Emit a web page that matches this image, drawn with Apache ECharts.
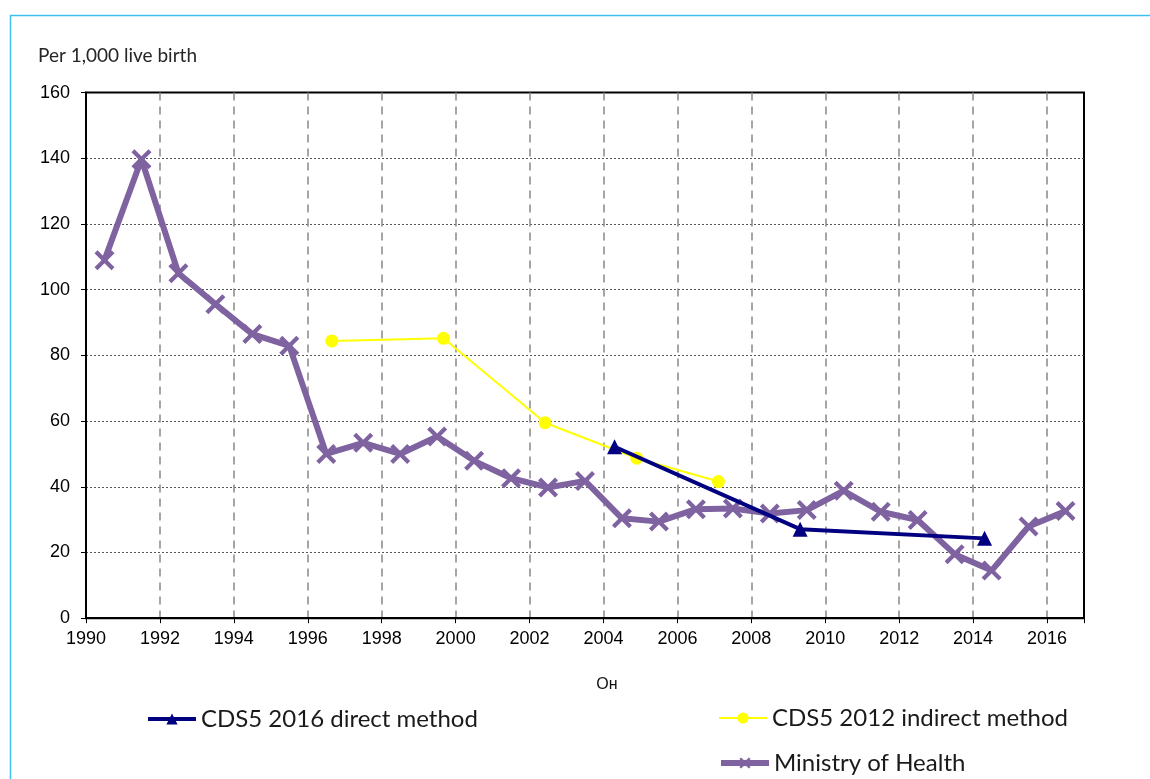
<!DOCTYPE html>
<html>
<head>
<meta charset="utf-8">
<script src="https://cdn.jsdelivr.net/npm/echarts@6/dist/echarts.min.js"></script>
<style>
  html, body { margin: 0; padding: 0; background: #fff; }
  #chart { width: 1150px; height: 779px; }
</style>
</head>
<body>
<div id="chart"></div>
<script>
// Ministry of Health, yearly values plotted at mid-year
const mohYears = [1990.5, 1991.5, 1992.5, 1993.5, 1994.5, 1995.5, 1996.5, 1997.5, 1998.5, 1999.5,
    2000.5, 2001.5, 2002.5, 2003.5, 2004.5, 2005.5, 2006.5, 2007.5, 2008.5, 2009.5,
    2010.5, 2011.5, 2012.5, 2013.5, 2014.5, 2015.5, 2016.5];
const mohValues = [109, 139.7, 105, 95.6, 86.5, 82.9, 50, 53.4, 50, 55.3,
    47.9, 42.6, 39.8, 41.8, 30.4, 29.4, 33.2, 33.4, 31.9, 32.9,
    38.8, 32.4, 29.9, 19.5, 14.5, 27.9, 32.6];

// CDS5 2012 indirect method
const indirectYears = [1996.65, 1999.67, 2002.42, 2004.9, 2007.11];
const indirectValues = [84.4, 85.2, 59.5, 48.7, 41.6];

// CDS5 2016 direct method
const directYears = [2004.3, 2009.32, 2014.31];
const directValues = [52.2, 27.1, 24.3];

const seriesNames = ['CDS5 2016 direct method', 'CDS5 2012 indirect method', 'Ministry of Health'];

const pairs = (xs, ys) => xs.map((x, i) => [x, ys[i]]);

const crossPath = 'path://M1.5,0 L5,3.5 L8.5,0 L10,1.5 L6.5,5 L10,8.5 L8.5,10 L5,6.5 L1.5,10 L0,8.5 L3.5,5 L0,1.5 Z';
const font = 'Liberation Sans, Arial, sans-serif';
const softFont = 'Lato, Open Sans, sans-serif';

const legendBase = {
    itemWidth: 48, itemHeight: 14, itemGap: 2,
    textStyle: { fontFamily: softFont, fontSize: 24, color: '#1a1a1a' }
};

const chart = echarts.init(document.getElementById('chart'));

const option = {
    animation: false,
    backgroundColor: '#fff',
    graphic: [{
        type: 'rect',
        left: 8, top: 13,
        shape: { width: 1300, height: 900 },
        style: { fill: 'none', stroke: '#3cc0ee', lineWidth: 1.5 },
        silent: true
    }],
    title: {
        text: 'Per 1,000 live birth',
        left: 33, top: 41,
        textStyle: { fontFamily: softFont, fontSize: 19, fontWeight: 'normal', color: '#262626' }
    },
    grid: { left: 86, top: 92.6, right: 66, bottom: 160.8, show: true, borderColor: '#000', borderWidth: 2 },
    legend: [
        Object.assign({ data: [seriesNames[0]], left: 141, top: 702, lineStyle: { width: 4 } }, legendBase),
        Object.assign({ data: [seriesNames[1]], left: 713, top: 701, lineStyle: { width: 2 } }, legendBase),
        Object.assign({ data: [seriesNames[2]], left: 713, top: 746, lineStyle: { width: 6 } }, legendBase)
    ],
    xAxis: {
        type: 'value',
        min: 1990, max: 2017, interval: 2,
        name: 'Он', nameLocation: 'middle', nameGap: 58,
        nameTextStyle: { fontFamily: font, fontSize: 16, color: '#111', padding: [0, 0, 0, 44] },
        axisLine: { lineStyle: { color: '#000', width: 2 } },
        axisTick: { show: true, length: 5, lineStyle: { color: '#000' } },
        axisLabel: {
            fontFamily: font, fontSize: 18, color: '#000', margin: 12,
            formatter: v => (v % 2 === 0 ? String(v) : '')
        },
        splitLine: { show: true, showMaxLine: false, lineStyle: { color: '#888', type: [8, 6], width: 1.5 } }
    },
    yAxis: {
        type: 'value',
        min: 0, max: 160, interval: 20,
        axisLine: { show: true, lineStyle: { color: '#000', width: 2 } },
        axisTick: { show: true, length: 5, lineStyle: { color: '#000' } },
        axisLabel: { fontFamily: font, fontSize: 18, color: '#000', margin: 16 },
        splitLine: { show: true, showMaxLine: false, lineStyle: { color: '#555', type: [2, 2], width: 1 } }
    },
    series: [
        {
            name: seriesNames[2],
            type: 'line',
            data: pairs(mohYears, mohValues),
            z: 2,
            color: '#7f63a1',
            lineStyle: { width: 6, color: '#7f63a1' },
            symbol: crossPath,
            symbolSize: 20,
            itemStyle: { color: '#7f63a1' }
        },
        {
            name: seriesNames[1],
            type: 'line',
            data: pairs(indirectYears, indirectValues),
            z: 3,
            color: '#ffff00',
            lineStyle: { width: 2, color: '#ffff00' },
            symbol: 'circle',
            symbolSize: 13,
            itemStyle: { color: '#ffff00', borderWidth: 0 }
        },
        {
            name: seriesNames[0],
            type: 'line',
            data: pairs(directYears, directValues),
            z: 4,
            color: '#000080',
            lineStyle: { width: 4, color: '#000080' },
            symbol: 'triangle',
            symbolSize: 15,
            itemStyle: { color: '#000080', borderWidth: 0 }
        }
    ]
};

chart.setOption(option);
</script>
</body>
</html>
